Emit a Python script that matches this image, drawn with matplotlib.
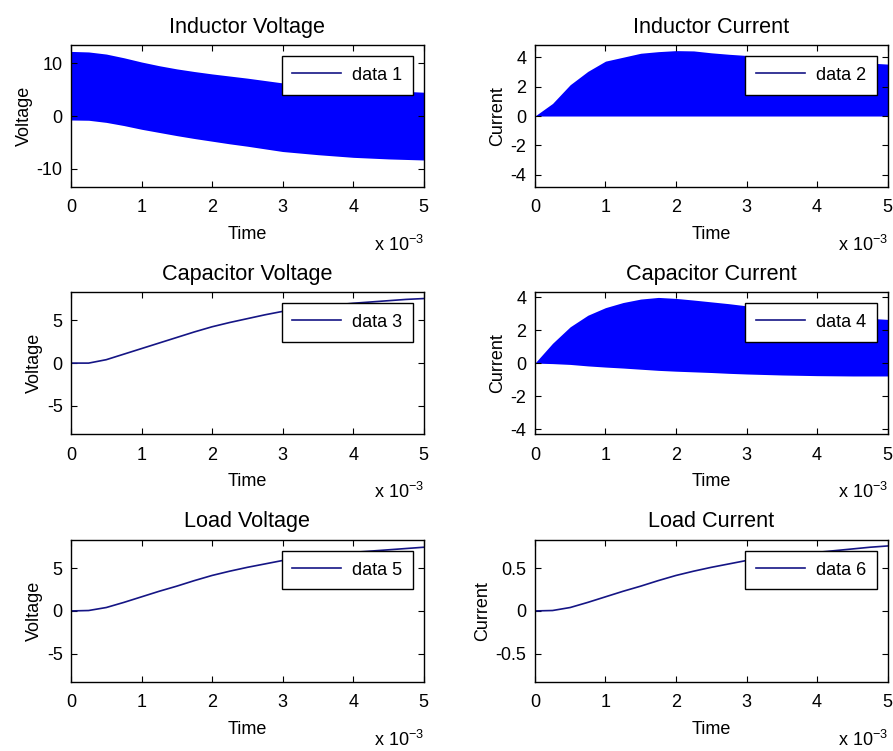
import numpy as np
import matplotlib
matplotlib.use('Agg')
import matplotlib.pyplot as plt
from matplotlib.lines import Line2D
from matplotlib.ticker import FuncFormatter

# time samples in ms (axis shows x 10^-3 s)
t_ms = [0, 0.25, 0.5, 0.75, 1, 1.25, 1.5, 1.75, 2, 2.25, 2.5,
        2.75, 3, 3.25, 3.5, 3.75, 4, 4.25, 4.5, 4.75, 5]

# switching signals -> upper / lower envelope of the band
ind_v_hi = [12.2, 12.1, 11.7, 11.0, 10.2, 9.5, 8.9, 8.4, 7.95, 7.55, 7.15,
            6.7, 6.25, 5.95, 5.7, 5.45, 5.2, 5.0, 4.8, 4.65, 4.5]
ind_v_lo = [-0.75, -0.8, -1.2, -1.8, -2.5, -3.1, -3.7, -4.25, -4.75, -5.25, -5.7,
            -6.2, -6.7, -7.0, -7.3, -7.55, -7.8, -7.95, -8.1, -8.2, -8.3]
ind_i_hi = [0, 0.86, 2.14, 3.05, 3.75, 4.02, 4.29, 4.4, 4.47, 4.45, 4.32,
            4.22, 4.14, 4.08, 4.0, 3.93, 3.85, 3.78, 3.7, 3.62, 3.55]
ind_i_lo = [0] * 21
cap_i_hi = [0, 1.2, 2.2, 2.9, 3.36, 3.67, 3.88, 3.98, 3.92, 3.82, 3.71,
            3.6, 3.47, 3.35, 3.22, 3.1, 2.98, 2.88, 2.79, 2.71, 2.65]
cap_i_lo = [0, -0.03, -0.08, -0.17, -0.24, -0.3, -0.37, -0.44, -0.49, -0.53, -0.57,
            -0.62, -0.66, -0.69, -0.72, -0.74, -0.76, -0.77, -0.78, -0.78, -0.78]

# smooth signals
cap_v = [0, 0, 0.4, 1.05, 1.7, 2.35, 3.0, 3.65, 4.25, 4.75, 5.2,
         5.65, 6.05, 6.35, 6.6, 6.8, 7.0, 7.15, 7.3, 7.45, 7.55]
load_v = [0, 0.05, 0.4, 1.0, 1.65, 2.3, 2.9, 3.55, 4.15, 4.65, 5.1,
          5.5, 5.9, 6.2, 6.45, 6.65, 6.85, 7.0, 7.15, 7.3, 7.45]
load_i = [0, 0.005, 0.04, 0.1, 0.165, 0.23, 0.29, 0.355, 0.415, 0.465, 0.51,
          0.55, 0.59, 0.62, 0.645, 0.665, 0.685, 0.705, 0.725, 0.745, 0.76]

titles = ['Inductor Voltage', 'Inductor Current', 'Capacitor Voltage',
          'Capacitor Current', 'Load Voltage', 'Load Current']
ylabels = ['Voltage', 'Current', 'Voltage', 'Current', 'Voltage', 'Current']
legend_names = ['data 1', 'data 2', 'data 3', 'data 4', 'data 5', 'data 6']
ylims = [13.4, 4.85, 8.3, 4.3, 8.3, 0.83]
yticks = [[-10, 0, 10], [-4, -2, 0, 2, 4], [-5, 0, 5], [-4, -2, 0, 2, 4],
          [-5, 0, 5], [-0.5, 0, 0.5]]

plt.rcParams['font.family'] = ['Liberation Sans', 'DejaVu Sans']
plt.rcParams['mathtext.default'] = 'regular'
plt.rcParams['font.size'] = 13

band_col = '#0000ff'
line_col = '#151585'

fig = plt.figure(figsize=(8.93, 7.51), dpi=100)
col_left = [0.0795, 0.599]
row_bottom = [0.751, 0.422, 0.092]
w, h = 0.395, 0.189

t = np.array(t_ms) * 1e-3
bands = {0: (ind_v_lo, ind_v_hi), 1: (ind_i_lo, ind_i_hi), 3: (cap_i_lo, cap_i_hi)}
lines = {2: cap_v, 4: load_v, 5: load_i}

for k in range(6):
    r, c = k // 2, k % 2
    ax = fig.add_axes([col_left[c], row_bottom[r], w, h])
    if k in bands:
        lo, hi = bands[k]
        ax.fill_between(t, lo, hi, color=band_col, linewidth=0)
    else:
        ax.plot(t, lines[k], color=line_col, lw=1.2)
    handle = Line2D([], [], color=line_col, lw=1.2)
    leg = ax.legend([handle], [legend_names[k]], loc='upper right', fancybox=False,
                    edgecolor='black', framealpha=1, handlelength=2.7,
                    borderpad=0.6, borderaxespad=0.6, handletextpad=0.6)
    leg.get_frame().set_linewidth(1.0)

    ax.set_xlim(0, 5e-3)
    ax.set_ylim(-ylims[k], ylims[k])
    ax.set_xticks(np.arange(0, 6) * 1e-3)
    ax.xaxis.set_major_formatter(FuncFormatter(lambda v, p: '%g' % round(v * 1e3, 6)))
    ax.set_yticks(yticks[k])
    ax.yaxis.set_major_formatter(FuncFormatter(lambda v, p: '%g' % v))
    ax.tick_params(direction='in', top=True, right=True, length=4, width=0.8)
    ax.tick_params(axis='x', pad=9)
    ax.tick_params(axis='y', pad=6)
    for s in ax.spines.values():
        s.set_linewidth(1.0)
    ax.set_title(titles[k], pad=9)
    ax.set_xlabel('Time', labelpad=7)
    ax.set_ylabel(ylabels[k], labelpad=3)
    ax.text(1.0, -0.41, 'x 10$^{-3}$', transform=ax.transAxes, ha='right', va='center')

fig.savefig('out.png', dpi=100)
